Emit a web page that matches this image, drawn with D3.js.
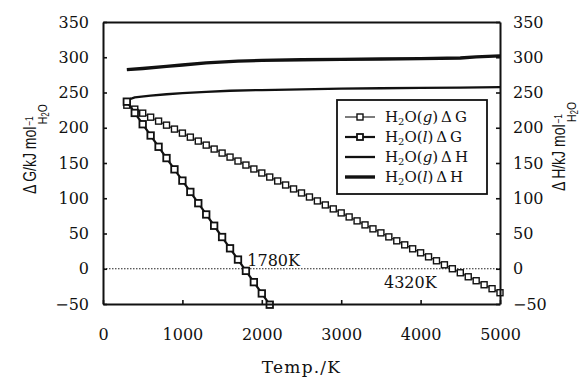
<!DOCTYPE html>
<html lang="en">
  <head>
    <meta charset="UTF-8" />
    <title>Water decomposition dG / dH</title>
    <style>
      body {
        margin: 0;
        background: #fff;
      }
      svg text {
        fill: #111;
      }
    </style>
  </head>
  <body>
    <div id="chart"></div>

    <script src="https://d3js.org/d3.v7.min.js"></script>
    <script>
      // temperatures (K) and values (kJ/mol H2O)
      const gasGTemps = [300, 400, 500, 600, 700, 800, 900, 1000, 1100, 1200, 1300, 1400, 1500, 1600, 1700, 1800, 1900, 2000,
        2100, 2200, 2300, 2400, 2500, 2600, 2700, 2800, 2900, 3000, 3100, 3200, 3300, 3400, 3500, 3600, 3700, 3800, 3900,
        4000, 4100, 4200, 4300, 4400, 4500, 4600, 4700, 4800, 4900, 5000];
      const gasG = [232.0, 226.4, 220.7, 215.0, 209.4, 203.7, 198.1, 192.4, 186.7, 181.1, 175.4, 169.8, 164.1, 158.4, 152.8,
        147.1, 141.5, 135.8, 130.1, 124.5, 118.8, 113.2, 107.5, 101.8, 96.2, 90.5, 84.9, 79.2, 73.5, 67.9, 62.2, 56.6, 50.9,
        45.2, 39.6, 33.9, 28.3, 22.6, 16.9, 11.3, 5.6, 0.0, -5.7, -11.4, -17.0, -22.7, -28.3, -34.0];

      const liqGTemps = [300, 400, 500, 600, 700, 800, 900, 1000, 1100, 1200, 1300, 1400, 1500, 1600, 1700, 1800, 1900, 2000, 2100];
      const liqG = [237.0, 221.0, 205.0, 189.0, 173.0, 157.0, 141.0, 125.0, 109.0, 93.0, 77.0, 61.0, 45.0, 29.0, 13.0, -3.0,
        -19.0, -35.0, -51.0];

      const gasHTemps = [300, 400, 600, 800, 1000, 1300, 1600, 2000, 2500, 3000, 3500, 4000, 4500, 5000];
      const gasH = [239, 243, 245.5, 247.5, 249, 251, 252.5, 253.5, 254.5, 255.5, 256, 256.5, 257, 257.5];

      const liqHTemps = [300, 500, 800, 1000, 1300, 1700, 2000, 2500, 3000, 3500, 4000, 4500, 4700, 5000];
      const liqH = [282.5, 284, 287, 289, 292, 294.5, 295.5, 296.5, 297, 297.5, 298, 299, 300.5, 302];

      const xTicks = [0, 1000, 2000, 3000, 4000, 5000];
      const yTicks = [-50, 0, 50, 100, 150, 200, 250, 300, 350];

      const annotations = [
        { label: "1780K", t: 1780, v: 0, dx: 3, dy: -3 },
        { label: "4320K", t: 4320, v: 0, dx: -62, dy: 19 },
      ];

      const legendItems = [
        { name: "g", prop: "G", kind: "gasG" },
        { name: "l", prop: "G", kind: "liqG" },
        { name: "g", prop: "H", kind: "gasH" },
        { name: "l", prop: "H", kind: "liqH" },
      ];

      const width = 582,
        height = 379,
        margin = { top: 22, right: 82, bottom: 75, left: 103 };

      const svg = d3
        .select("#chart")
        .append("svg")
        .attr("width", width)
        .attr("height", height);

      const x = d3
        .scaleLinear()
        .domain([0, 5000])
        .range([margin.left, width - margin.right]);
      const y = d3
        .scaleLinear()
        .domain([-50, 350])
        .range([height - margin.bottom, margin.top]);

      const serif = "'DejaVu Serif', serif";
      const sans = "'Liberation Sans', Arial, sans-serif";

      // styles per series
      const styles = {
        gasG: { width: 1.1, marker: 6, mstroke: 1.4 },
        liqG: { width: 2.2, marker: 6.5, mstroke: 1.8 },
        gasH: { width: 2.3 },
        liqH: { width: 3.4 },
      };

      // zero line
      svg
        .append("line")
        .attr("x1", x(0))
        .attr("x2", x(5000))
        .attr("y1", y(0))
        .attr("y2", y(0))
        .attr("stroke", "#222")
        .attr("stroke-width", 1)
        .attr("stroke-dasharray", "1.5,1.5");

      const line = d3
        .line()
        .x((d) => x(d[0]))
        .y((d) => y(d[1]));

      function drawSeries(temps, vals, kind) {
        const pts = temps.map((t, i) => [t, vals[i]]);
        const st = styles[kind];
        svg
          .append("path")
          .datum(pts)
          .attr("fill", "none")
          .attr("stroke", "#111")
          .attr("stroke-width", st.width)
          .attr("stroke-linejoin", "round")
          .attr("d", line);
        if (st.marker) {
          svg
            .append("g")
            .selectAll("rect")
            .data(pts)
            .enter()
            .append("rect")
            .attr("x", (d) => x(d[0]) - st.marker / 2)
            .attr("y", (d) => y(d[1]) - st.marker / 2)
            .attr("width", st.marker)
            .attr("height", st.marker)
            .attr("fill", "#fff")
            .attr("stroke", "#111")
            .attr("stroke-width", st.mstroke);
        }
      }

      drawSeries(liqHTemps, liqH, "liqH");
      drawSeries(gasHTemps, gasH, "gasH");
      drawSeries(gasGTemps, gasG, "gasG");
      drawSeries(liqGTemps, liqG, "liqG");

      // axes (ticks point inward)
      function styleAxis(g) {
        g.selectAll("path.domain").attr("stroke", "#111").attr("stroke-width", 2);
        g.selectAll(".tick line").attr("stroke", "#111").attr("stroke-width", 1.6);
        g.selectAll(".tick text")
          .attr("font-family", serif)
          .attr("font-size", 16)
          .attr("fill", "#111");
      }

      svg
        .append("g")
        .attr("transform", `translate(0,${y(-50)})`)
        .call(d3.axisBottom(x).tickValues(xTicks).tickSize(-4).tickSizeOuter(0).tickPadding(25).tickFormat(d3.format("d")))
        .call(styleAxis);
      svg
        .append("g")
        .attr("transform", `translate(0,${y(350)})`)
        .call(d3.axisTop(x).tickValues([]).tickSizeOuter(0))
        .call(styleAxis);
      svg
        .append("g")
        .attr("transform", `translate(${x(0)},0)`)
        .call(d3.axisLeft(y).tickValues(yTicks).tickSize(-4).tickSizeOuter(0).tickPadding(14))
        .call(styleAxis);
      svg
        .append("g")
        .attr("transform", `translate(${x(5000)},0)`)
        .call(d3.axisRight(y).tickValues(yTicks).tickSize(-4).tickSizeOuter(0).tickPadding(13))
        .call(styleAxis);

      // annotations
      svg
        .selectAll("text.anno")
        .data(annotations)
        .enter()
        .append("text")
        .attr("class", "anno")
        .attr("x", (d) => x(d.t) + d.dx)
        .attr("y", (d) => y(d.v) + d.dy)
        .attr("font-family", serif)
        .attr("font-size", 16)
        .text((d) => d.label);

      // x axis title
      svg
        .append("text")
        .attr("x", (x(0) + x(5000)) / 2)
        .attr("y", 373)
        .attr("text-anchor", "middle")
        .attr("font-family", serif)
        .attr("font-size", 17)
        .attr("letter-spacing", 1.2)
        .text("Temp./K");

      // rotated y titles (mol^-1 with H2O stacked underneath)
      function yTitle(tx, ty, sym) {
        const t = svg
          .append("text")
          .attr("transform", `translate(${tx},${ty}) rotate(-90) scale(0.8,1)`)
          .attr("font-family", sans)
          .attr("font-size", 17.5);
        t.append("tspan").text("\u0394\u2009" + sym + "/kJ mol");
        t.append("tspan").attr("font-size", 10.5).attr("dx", 1).attr("dy", -3).text("\u2212" + "1");
        t.append("tspan").attr("font-size", 13).attr("dx", -10).attr("dy", 14).text("H");
        t.append("tspan").attr("font-size", 10).attr("dy", 2).text("2");
        t.append("tspan").attr("font-size", 13).attr("dy", -2).text("O");
      }
      yTitle(36, 194, "G");
      yTitle(565, 191, "H");

      // legend
      const lg = svg.append("g");
      lg.append("rect")
        .attr("x", 337)
        .attr("y", 100)
        .attr("width", 150)
        .attr("height", 94)
        .attr("fill", "#fff")
        .attr("stroke", "#111")
        .attr("stroke-width", 1.8);

      const rows = lg
        .selectAll("g.row")
        .data(legendItems)
        .enter()
        .append("g")
        .attr("class", "row")
        .attr("transform", (d, i) => `translate(0,${117 + i * 20})`);

      rows
        .append("line")
        .attr("x1", 345)
        .attr("x2", 375)
        .attr("stroke", "#111")
        .attr("stroke-width", (d) => styles[d.kind].width);
      rows
        .filter((d) => styles[d.kind].marker)
        .append("rect")
        .attr("x", 357)
        .attr("y", -3)
        .attr("width", 6)
        .attr("height", 6)
        .attr("fill", "#fff")
        .attr("stroke", "#111")
        .attr("stroke-width", (d) => styles[d.kind].mstroke);

      const lt = rows
        .append("text")
        .attr("x", 385)
        .attr("y", 5)
        .attr("font-family", serif)
        .attr("font-size", 15);
      lt.append("tspan").text("H");
      lt.append("tspan").attr("font-size", 10).attr("dy", 3).text("2");
      lt.append("tspan").attr("dy", -3).text("O(");
      lt.append("tspan").attr("font-style", "italic").text((d) => d.name);
      lt.append("tspan").text((d) => ")\u2009\u0394\u2009" + d.prop);
    </script>
  </body>
</html>
